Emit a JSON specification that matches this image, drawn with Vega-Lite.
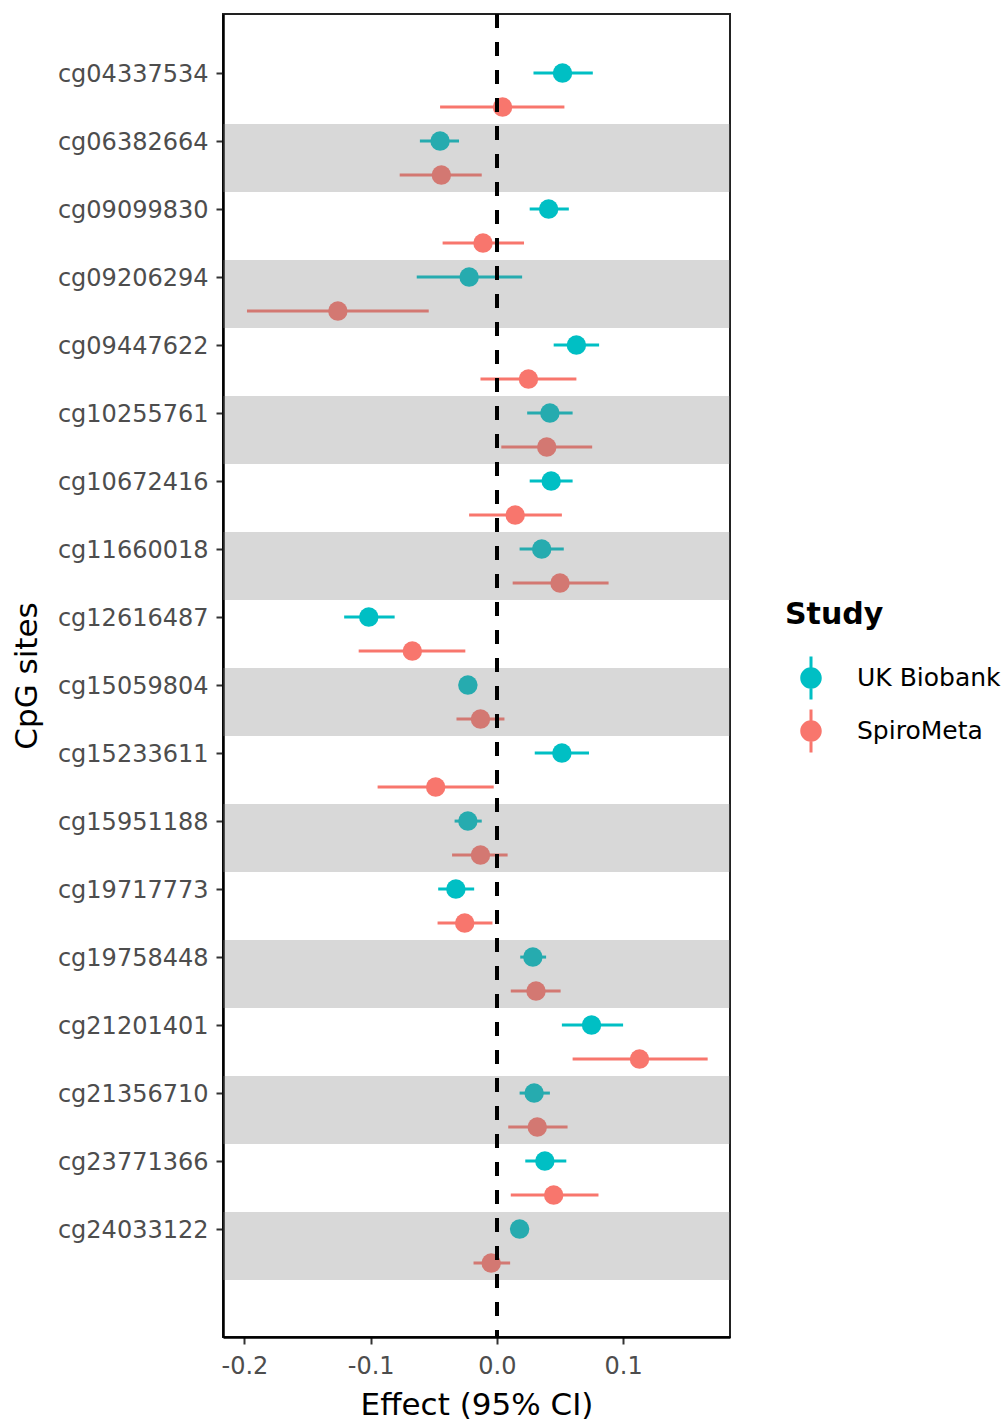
{
  "$schema": "https://vega.github.io/schema/vega-lite/v6.json",
  "autosize": "none",
  "width": 507,
  "height": 1323,
  "padding": {"left": 223, "top": 14, "right": 275, "bottom": 87},
  "background": "white",
  "config": {
    "font": "DejaVu Sans",
    "view": {"stroke": "#222222", "strokeWidth": 2},
    "axis": {
      "domainColor": "#000000", "domainWidth": 2.5,
      "tickColor": "#333333", "tickWidth": 2, "tickSize": 7,
      "labelColor": "#4D4D4D", "labelFontSize": 24, "labelFont": "DejaVu Sans",
      "titleColor": "#000000", "titleFontSize": 31, "titleFontWeight": "normal", "titleFont": "DejaVu Sans",
      "grid": false
    },
    "legend": {
      "orient": "none", "legendX": 562, "legendY": 586,
      "padding": 0,
      "titleFontSize": 30, "titleFontWeight": "bold", "titleColor": "#000000", "titlePadding": 26, "titleFont": "DejaVu Sans",
      "labelFontSize": 25, "labelColor": "#000000", "labelOffset": 24, "labelFont": "DejaVu Sans",
      "symbolType": "M-0.5,0A0.5,0.5,0,1,1,0.5,0A0.5,0.5,0,1,1,-0.5,0Z M-0.07,-1H0.07V1H-0.07Z",
      "symbolSize": 1850, "symbolStrokeWidth": 0, "symbolOffset": 4, "rowPadding": 9
    }
  },
  "data": {"values": [
    {"site": "cg04337534", "study": "UK Biobank", "est": 0.052, "lo": 0.029, "hi": 0.076},
    {"site": "cg04337534", "study": "SpiroMeta", "est": 0.0045, "lo": -0.045, "hi": 0.0535},
    {"site": "cg06382664", "study": "UK Biobank", "est": -0.045, "lo": -0.061, "hi": -0.030},
    {"site": "cg06382664", "study": "SpiroMeta", "est": -0.044, "lo": -0.077, "hi": -0.012},
    {"site": "cg09099830", "study": "UK Biobank", "est": 0.041, "lo": 0.026, "hi": 0.057},
    {"site": "cg09099830", "study": "SpiroMeta", "est": -0.011, "lo": -0.043, "hi": 0.0215},
    {"site": "cg09206294", "study": "UK Biobank", "est": -0.022, "lo": -0.0635, "hi": 0.020},
    {"site": "cg09206294", "study": "SpiroMeta", "est": -0.126, "lo": -0.198, "hi": -0.054},
    {"site": "cg09447622", "study": "UK Biobank", "est": 0.063, "lo": 0.045, "hi": 0.081},
    {"site": "cg09447622", "study": "SpiroMeta", "est": 0.025, "lo": -0.013, "hi": 0.063},
    {"site": "cg10255761", "study": "UK Biobank", "est": 0.042, "lo": 0.024, "hi": 0.060},
    {"site": "cg10255761", "study": "SpiroMeta", "est": 0.0395, "lo": 0.0035, "hi": 0.0755},
    {"site": "cg10672416", "study": "UK Biobank", "est": 0.043, "lo": 0.026, "hi": 0.060},
    {"site": "cg10672416", "study": "SpiroMeta", "est": 0.0145, "lo": -0.022, "hi": 0.0515},
    {"site": "cg11660018", "study": "UK Biobank", "est": 0.0355, "lo": 0.018, "hi": 0.053},
    {"site": "cg11660018", "study": "SpiroMeta", "est": 0.050, "lo": 0.0125, "hi": 0.0885},
    {"site": "cg12616487", "study": "UK Biobank", "est": -0.1015, "lo": -0.121, "hi": -0.081},
    {"site": "cg12616487", "study": "SpiroMeta", "est": -0.067, "lo": -0.1095, "hi": -0.025},
    {"site": "cg15059804", "study": "UK Biobank", "est": -0.023, "lo": -0.028, "hi": -0.018},
    {"site": "cg15059804", "study": "SpiroMeta", "est": -0.013, "lo": -0.032, "hi": 0.006},
    {"site": "cg15233611", "study": "UK Biobank", "est": 0.0515, "lo": 0.030, "hi": 0.073},
    {"site": "cg15233611", "study": "SpiroMeta", "est": -0.0485, "lo": -0.0945, "hi": -0.0025},
    {"site": "cg15951188", "study": "UK Biobank", "est": -0.023, "lo": -0.0335, "hi": -0.012},
    {"site": "cg15951188", "study": "SpiroMeta", "est": -0.013, "lo": -0.0355, "hi": 0.0085},
    {"site": "cg19717773", "study": "UK Biobank", "est": -0.0325, "lo": -0.0465, "hi": -0.018},
    {"site": "cg19717773", "study": "SpiroMeta", "est": -0.0255, "lo": -0.047, "hi": -0.0035},
    {"site": "cg19758448", "study": "UK Biobank", "est": 0.0285, "lo": 0.0185, "hi": 0.039},
    {"site": "cg19758448", "study": "SpiroMeta", "est": 0.031, "lo": 0.011, "hi": 0.0505},
    {"site": "cg21201401", "study": "UK Biobank", "est": 0.075, "lo": 0.0515, "hi": 0.100},
    {"site": "cg21201401", "study": "SpiroMeta", "est": 0.113, "lo": 0.060, "hi": 0.167},
    {"site": "cg21356710", "study": "UK Biobank", "est": 0.0295, "lo": 0.018, "hi": 0.042},
    {"site": "cg21356710", "study": "SpiroMeta", "est": 0.032, "lo": 0.009, "hi": 0.056},
    {"site": "cg23771366", "study": "UK Biobank", "est": 0.038, "lo": 0.0225, "hi": 0.055},
    {"site": "cg23771366", "study": "SpiroMeta", "est": 0.045, "lo": 0.011, "hi": 0.0805},
    {"site": "cg24033122", "study": "UK Biobank", "est": 0.018, "lo": 0.014, "hi": 0.022},
    {"site": "cg24033122", "study": "SpiroMeta", "est": -0.0045, "lo": -0.0185, "hi": 0.0105}
  ]},
  "encoding": {
    "y": {
      "field": "site", "type": "nominal", "title": "CpG sites",
      "scale": {
        "domain": ["cg04337534","cg06382664","cg09099830","cg09206294","cg09447622","cg10255761","cg10672416","cg11660018","cg12616487","cg15059804","cg15233611","cg15951188","cg19717773","cg19758448","cg21201401","cg21356710","cg23771366","cg24033122"],
        "paddingInner": 0, "paddingOuter": 0.728, "align": 0.425
      },
      "axis": {"bandPosition": 0.25, "labelOffset": -15, "labelPadding": 8, "titlePadding": 14}
    }
  },
  "layer": [
    {
      "mark": {"type": "rule", "strokeWidth": 3},
      "encoding": {
        "x": {"field": "lo", "type": "quantitative"},
        "x2": {"field": "hi"},
        "yOffset": {"field": "study", "type": "nominal", "sort": ["UK Biobank", "SpiroMeta"], "scale": {"paddingInner": 0, "paddingOuter": 0}},
        "color": {"field": "study", "type": "nominal", "title": "Study",
          "scale": {"domain": ["UK Biobank", "SpiroMeta"], "range": ["#00BFC4", "#F8766D"]}}
      }
    },
    {
      "mark": {"type": "point", "filled": true, "opacity": 1, "size": 380},
      "encoding": {
        "x": {
          "field": "est", "type": "quantitative", "title": "Effect (95% CI)",
          "scale": {"domain": [-0.217, 0.1847], "nice": false, "zero": false},
          "axis": {"values": [-0.2, -0.1, 0, 0.1], "labelExpr": "datum.value < 0 ? '-' + format(-datum.value, '.1f') : format(datum.value, '.1f')", "labelPadding": 10, "titlePadding": 12}
        },
        "yOffset": {"field": "study", "type": "nominal", "sort": ["UK Biobank", "SpiroMeta"], "scale": {"paddingInner": 0, "paddingOuter": 0}},
        "color": {
          "field": "study", "type": "nominal", "title": "Study",
          "scale": {"domain": ["UK Biobank", "SpiroMeta"], "range": ["#00BFC4", "#F8766D"]}
        }
      }
    },
    {
      "transform": [
        {"filter": "datum.study == 'UK Biobank'"},
        {"window": [{"op": "row_number", "as": "rn"}]},
        {"filter": "datum.rn % 2 == 0"}
      ],
      "mark": {"type": "rect", "fill": "#7F7F7F", "opacity": 0.3},
      "encoding": {
        "x": {"value": 0},
        "x2": {"value": "width"}
      }
    },
    {
      "mark": {"type": "rule", "color": "#000000", "strokeWidth": 3, "strokeDash": [14, 14]},
      "encoding": {"x": {"datum": 0}, "y": null}
    }
  ]
}
